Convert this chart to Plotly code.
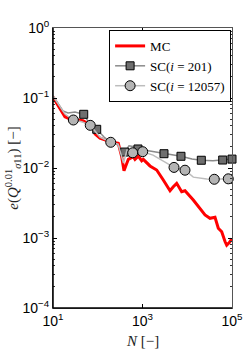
import plotly.graph_objects as go

# ---- data ----
mc_N = [10, 18.5, 24, 47, 67, 80, 87, 112, 188, 288, 343, 386, 482, 623, 679, 805, 959, 1042,
        1470, 2075, 2915, 4120, 4880, 5810, 7510, 8910, 13650, 19270, 24940, 32240, 41700,
        49400, 58900, 69800, 76200, 87100, 100000]
mc_e = [0.103, 0.054, 0.050, 0.0474, 0.0411, 0.0389, 0.0306, 0.0266, 0.0238, 0.0225, 0.0145,
        0.00915, 0.0133, 0.0145, 0.0133, 0.0148, 0.0127, 0.0133, 0.0107, 0.00936, 0.00674,
        0.00474, 0.0054, 0.00604, 0.00459, 0.00474, 0.00349, 0.00260, 0.00213, 0.00191,
        0.00198, 0.00138, 0.00123, 0.00089, 0.00079, 0.00086, 0.00098]

sc201_line_N = [10, 16.7, 21.6, 31, 48.6, 64.7, 94.8, 138, 195, 288, 343, 400, 499, 613, 792,
                1472, 3020, 4560, 7244, 12760, 20600, 37600, 62000, 100000]
sc201_line_e = [0.107, 0.0652, 0.0611, 0.063, 0.0585, 0.0435, 0.0357, 0.0277, 0.0235, 0.0213,
                0.0171, 0.0169, 0.0208, 0.0203, 0.0187, 0.0175, 0.016, 0.0153, 0.0147, 0.0134,
                0.0129, 0.0127, 0.013, 0.0134]
sc201_mark_N = [48.6, 94.8, 400, 792, 3020, 7244, 20600, 62000, 100000]
sc201_mark_e = [0.0585, 0.0357, 0.0169, 0.0187, 0.016, 0.0147, 0.0129, 0.013, 0.0134]

sc12057_line_N = [10, 18.5, 28.5, 43.7, 68, 86.9, 112, 195, 284, 376, 451, 604, 1010, 1720,
                  3475, 5060, 8900, 13650, 27200, 40200, 82600, 100000]
sc12057_line_e = [0.107, 0.059, 0.0485, 0.0459, 0.0407, 0.0338, 0.0277, 0.0233, 0.022, 0.0118,
                  0.0181, 0.0165, 0.0171, 0.0153, 0.0117, 0.0102, 0.0093, 0.0074, 0.00697,
                  0.0069, 0.0070, 0.0071]
sc12057_mark_N = [28.5, 68, 195, 604, 1010, 5060, 8900, 40200, 82600]
sc12057_mark_e = [0.0485, 0.0407, 0.0233, 0.0165, 0.0171, 0.0102, 0.0093, 0.0069, 0.0070]

x_tickvals = [10, 1000, 100000]
x_ticktext = ["10<sup>1</sup>", "10<sup>3</sup>", "10<sup>5</sup>"]
y_tickvals = [1e-4, 1e-3, 1e-2, 1e-1, 1]
y_ticktext = ["10<sup>−4</sup>", "10<sup>−3</sup>", "10<sup>−2</sup>", "10<sup>−1</sup>", "10<sup>0</sup>"]

names = ["MC", "SC(<i>i</i> = 201)", "SC(<i>i</i> = 12057)"]

# ---- styles ----
RED = "#ff0000"
C201_LINE, C201_FILL = "#8a8a8a", "#6e6e6e"
C12057_LINE, C12057_FILL = "#bdbdbd", "#b4b4b4"

fig = go.Figure()

fig.add_trace(go.Scatter(x=mc_N, y=mc_e, mode="lines", name=names[0],
                         line=dict(color=RED, width=3), legendrank=1))

fig.add_trace(go.Scatter(x=sc201_line_N, y=sc201_line_e, mode="lines", showlegend=False,
                         line=dict(color=C201_LINE, width=1.5)))
fig.add_trace(go.Scatter(x=sc201_mark_N, y=sc201_mark_e, mode="markers", showlegend=False,
                         cliponaxis=False,
                         marker=dict(symbol="square", size=8, color=C201_FILL,
                                     line=dict(color="black", width=1))))

fig.add_trace(go.Scatter(x=sc12057_line_N, y=sc12057_line_e, mode="lines", showlegend=False,
                         line=dict(color=C12057_LINE, width=1.5)))
fig.add_trace(go.Scatter(x=sc12057_mark_N, y=sc12057_mark_e, mode="markers", showlegend=False,
                         cliponaxis=False,
                         marker=dict(symbol="circle", size=10, color=C12057_FILL,
                                     line=dict(color="black", width=1))))

# legend entries (line + marker samples)
fig.add_trace(go.Scatter(x=[None], y=[None], mode="lines+markers", name=names[1], legendrank=2,
                         line=dict(color=C201_LINE, width=1.5),
                         marker=dict(symbol="square", size=8, color=C201_FILL,
                                     line=dict(color="black", width=1))))
fig.add_trace(go.Scatter(x=[None], y=[None], mode="lines+markers", name=names[2], legendrank=3,
                         line=dict(color=C12057_LINE, width=1.5),
                         marker=dict(symbol="circle", size=10, color=C12057_FILL,
                                     line=dict(color="black", width=1))))

tickfont = dict(family="Liberation Sans, Arial, sans-serif", size=14, color="black")
serif = "Liberation Serif, Times New Roman, serif"

minor_y = [k * 10.0 ** d for d in range(-4, 0) for k in range(2, 10)]

fig.update_layout(
    width=245, height=354,
    margin=dict(l=53, r=13, t=28, b=46, autoexpand=False),
    paper_bgcolor="white", plot_bgcolor="white",
    showlegend=True,
    legend=dict(x=0.995, y=0.993, xanchor="right", yanchor="top",
                bgcolor="white", bordercolor="black", borderwidth=1,
                font=dict(family=serif, size=13, color="black"),
                itemwidth=30, tracegroupgap=0),
    xaxis=dict(type="log", range=[1, 5], tickvals=x_tickvals, ticktext=x_ticktext,
               ticks="inside", ticklen=4, tickcolor="black", mirror="ticks",
               showline=True, linecolor="#555555", linewidth=1, automargin=False,
               showgrid=False, zeroline=False, tickfont=tickfont),
    yaxis=dict(type="log", range=[-4, 0], tickvals=y_tickvals, ticktext=y_ticktext,
               ticks="inside", ticklen=4, tickcolor="black", mirror="ticks",
               showline=True, linecolor="#555555", linewidth=1, automargin=False,
               showgrid=False, zeroline=False, tickfont=tickfont,
               minor=dict(tickvals=minor_y, ticks="inside", ticklen=2, tickcolor="#333333",
                          showgrid=False)),
    annotations=[
        dict(text="<i>e</i>(<i>Q</i><sup>0.01</sup><sub><i>σ</i>11</sub>) [−]",
             xref="paper", yref="paper", x=-0.225, y=0.5, textangle=-90,
             showarrow=False, xanchor="center", yanchor="middle",
             font=dict(family=serif, size=15, color="#222222")),
        dict(text="<i>N</i> [−]", xref="paper", yref="paper", x=0.5, y=-0.118,
             showarrow=False, xanchor="center", yanchor="middle",
             font=dict(family=serif, size=15, color="#222222")),
    ],
    shapes=[
        dict(type="line", xref="paper", yref="paper", x0=0, x1=0, y0=0, y1=1,
             line=dict(color="black", width=1.5)),
        dict(type="line", xref="paper", yref="paper", x0=0, x1=1, y0=0, y1=0,
             line=dict(color="black", width=1.5)),
    ],
)

fig.write_html("out.html", config={"displayModeBar": False},
               post_script="document.body.style.margin='0';document.body.style.overflow='hidden';")
